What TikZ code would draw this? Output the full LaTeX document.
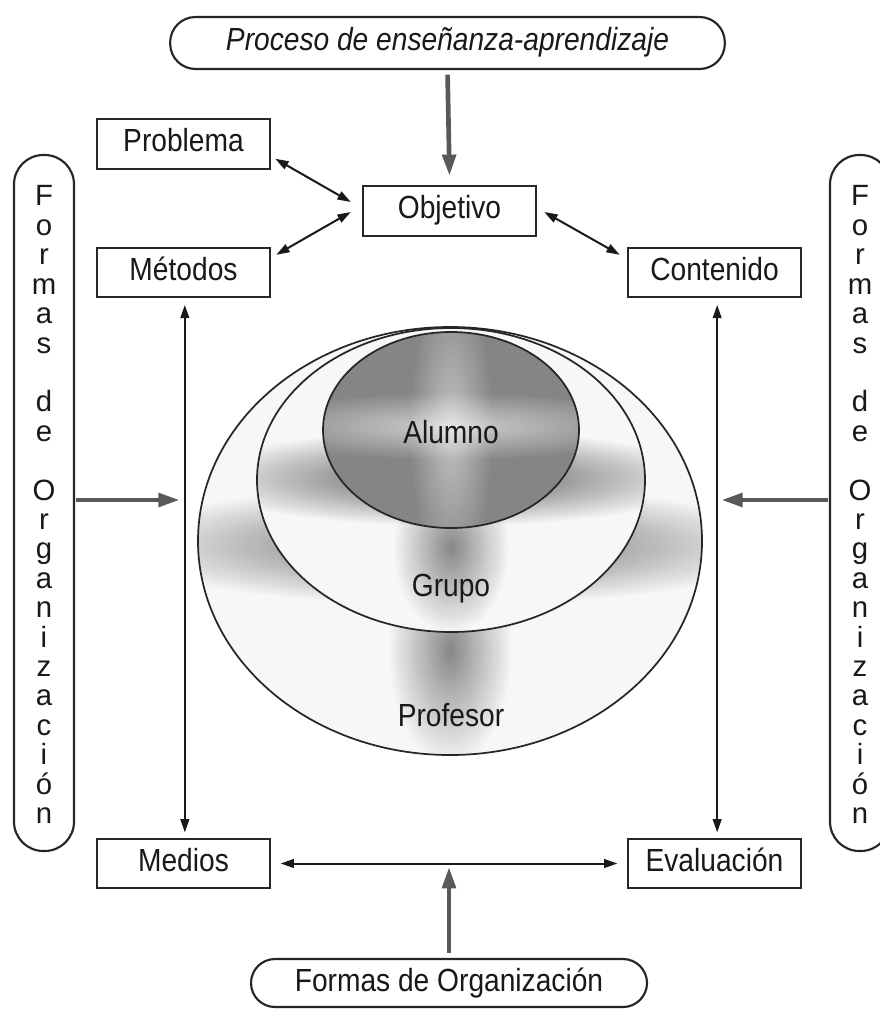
\documentclass[tikz,border=0pt]{standalone}
\usepackage{fontspec}
\setmainfont{Liberation Sans}
\newfontfamily\condfont{Liberation Sans}[FakeStretch=0.88]
\usetikzlibrary{arrows.meta,calc,fadings}
\tikzfading[name=blob, inner color=transparent!0, outer color=transparent!100]
\begin{document}
\begin{tikzpicture}[x=0.75pt,y=-0.75pt,
  txt/.style={font=\condfont\fontsize{24}{24}\selectfont, text=black!90},
  box/.style={txt, draw=black!85, line width=1.6pt, fill=white, minimum width=130pt,
    minimum height=37pt, inner sep=0pt, text height=17pt, text depth=5pt},
  pill/.style={txt, draw=black!85, line width=1.6pt, fill=white, rounded corners=19pt,
    minimum height=39pt, inner sep=0pt, text height=17pt, text depth=5pt},
  vpill/.style={draw=black!85, line width=1.6pt, rounded corners=22pt,
    minimum width=45pt, minimum height=522pt, inner sep=0pt},
  letter/.style={font=\fontsize{22}{22}\selectfont, text=black!90, anchor=base, inner sep=0pt},
  dbl/.style={{Triangle[length=10pt,width=6.5pt]}-{Triangle[length=10pt,width=6.5pt]},
    line width=1.5pt, draw=black!90},
  garrow/.style={-{Triangle[length=16pt,width=10pt]}, line width=3.5pt, draw=black!65},
  ring/.style={draw=black!85, line width=1.3pt},
  darkblob/.style={fill=black, fill opacity=#1, path fading=blob},
  lightblob/.style={fill=white, fill opacity=#1, path fading=blob}
]
\useasboundingbox (0,0) rectangle (880,1012);
\fill[white] (0,0) rectangle (880,1012);
\clip (0,0) rectangle (880,1012);

% ---- Profesor ----
\begin{scope}
  \clip (450,541) ellipse [x radius=252, y radius=214];
  \fill[black!3] (450,541) ellipse [x radius=252, y radius=214];
  \fill[darkblob=0.6] (450,545) ellipse [x radius=340, y radius=60];
  \fill[darkblob=0.45] (450,650) ellipse [x radius=62, y radius=115];
\end{scope}
\draw[ring] (450,541) ellipse [x radius=252, y radius=214];
% ---- Grupo ----
\begin{scope}
  \clip (451,480) ellipse [x radius=194, y radius=152];
  \fill[black!3] (451,480) ellipse [x radius=194, y radius=152];
  \fill[darkblob=0.65] (451,478) ellipse [x radius=260, y radius=48];
  \fill[darkblob=0.45] (451,548) ellipse [x radius=58, y radius=85];
\end{scope}
\draw[ring] (451,480) ellipse [x radius=194, y radius=152];
% ---- Alumno ----
\begin{scope}
  \clip (451,430) ellipse [x radius=128, y radius=98];
  \fill[black!48] (451,430) ellipse [x radius=128, y radius=98];
  \fill[lightblob=0.6] (451,426) ellipse [x radius=210, y radius=34];
  \fill[lightblob=0.5] (451,430) ellipse [x radius=42, y radius=150];
\end{scope}
\draw[ring] (451,430) ellipse [x radius=128, y radius=98];
\node[txt, anchor=base, inner sep=0pt] (alumno) at (451,443) {Alumno};
\node[txt, anchor=base, inner sep=0pt] (grupo) at (451,596) {Grupo};
\node[txt, anchor=base, inner sep=0pt] (profesor) at (451,726) {Profesor};

% top and bottom pills
\node[pill, minimum width=416pt] (tpill) at (447.5,43) {\itshape Proceso de enseñanza-aprendizaje};
\node[pill, minimum width=297pt, minimum height=36pt, rounded corners=18pt] (bpill) at (449,983) {Formas de Organización};

% boxes
\node[box] (obj) at (449.5,211) {Objetivo};
\node[box] (prob) at (183.5,144) {Problema};
\node[box] (met) at (183.5,272.5) {Métodos};
\node[box] (cont) at (714.5,272.5) {Contenido};
\node[box] (med) at (183.5,863.5) {Medios};
\node[box] (eval) at (714.5,863.5) {Evaluación};

% vertical pills
\node[vpill] (lpill) at (44,503) {};
\node[vpill] (rpill) at (860,503) {};
\foreach \ch/\k in {F/0,o/1,r/2,m/3,a/4,s/5,d/7,e/8,O/10,r/11,g/12,a/13,n/14,i/15,z/16,a/17,c/18,i/19,ó/20,n/21}{
  \node[letter] (lf\k) at (44,{206+\k*29.4}) {\ch};
  \node[letter] (rf\k) at (860,{206+\k*29.4}) {\ch};
}

% connectors
\draw[garrow, shorten <=3.5pt] (tpill.south) -- ([yshift=7pt]obj.north);
\draw[dbl] ($(prob.south east)+(4,-11)$) -- ($(obj.west)+(-11,-9)$);
\draw[dbl] ($(met.north east)+(5,8)$) -- ($(obj.west)+(-11,1)$);
\draw[dbl] ($(obj.east)+(7,1)$) -- ($(cont.north west)+(-7,8)$);
\draw[dbl, shorten <=5pt, shorten >=4pt] ([xshift=1pt]met.south) -- ([xshift=1pt]med.north);
\draw[dbl, shorten <=5pt, shorten >=4pt] ([xshift=2pt]cont.south) -- ([xshift=2pt]eval.north);
\draw[dbl, shorten <=7pt, shorten >=7pt] (med.east) -- (eval.west);

\coordinate (lhit) at (185,500);
\coordinate (rhit) at (716,500);
\coordinate (hmid) at (449,863);
\draw[garrow, shorten <=1pt] (lpill.east |- lhit) -- ([xshift=-4pt]lhit);
\draw[garrow, shorten <=1pt] (rpill.west |- rhit) -- ([xshift=4pt]rhit);
\draw[garrow, shorten <=4pt] (bpill.north) -- ([yshift=-3pt]hmid);
\end{tikzpicture}
\end{document}
